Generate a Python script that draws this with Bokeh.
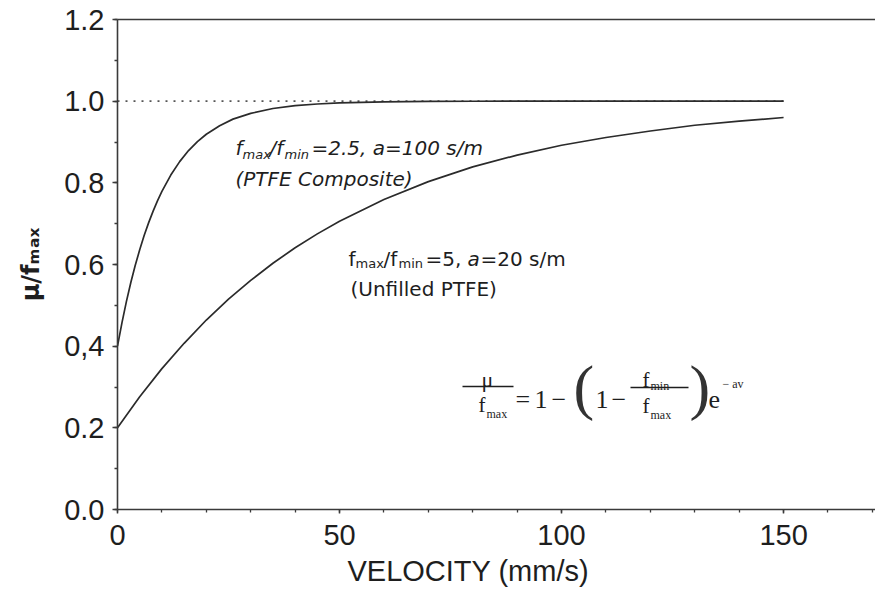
from bokeh.plotting import figure
from bokeh.models import Label, Range1d, LinearAxis, FixedTicker, Title
from bokeh.embed import file_html
from bokeh.resources import INLINE

# ---- data ----
velocity = [0, 1, 2, 3, 4, 5, 6, 7, 8, 9, 10, 12, 14, 16, 18, 20, 23, 26, 30, 35, 40, 45,
             50, 60, 70, 80, 100, 150]
ptfe_composite = [0.400, 0.457, 0.509, 0.556, 0.598, 0.636, 0.671, 0.702, 0.730, 0.756,
                  0.779, 0.819, 0.852, 0.879, 0.901, 0.919, 0.940, 0.956, 0.970, 0.982,
                  0.989, 0.993, 0.996, 0.9985, 0.9995, 0.9998, 1.0, 1.0]
velocity_u = [0, 5, 10, 15, 20, 25, 30, 35, 40, 45, 50, 60, 70, 80, 90, 100, 110, 120,
              130, 140, 150]
unfilled_ptfe = [0.200, 0.276, 0.345, 0.407, 0.464, 0.515, 0.561, 0.603, 0.641, 0.675,
                 0.706, 0.759, 0.803, 0.839, 0.868, 0.892, 0.911, 0.927, 0.941, 0.951, 0.960]
ref_x = [0, 150]
ref_y = [1.0, 1.0]
x_ticks = [0, 50, 100, 150]
y_ticks = [0.0, 0.2, 0.4, 0.6, 0.8, 1.0, 1.2]
y_tick_labels = ["0.0", "0.2", "0,4", "0.6", "0.8", "1.0", "1.2"]

W, H = 875, 594
L, T, B = 117, 19, 85
XMAX = 170.7
YMAX = 1.2

p = figure(width=W, height=H, output_backend="svg", toolbar_location=None,
           x_range=Range1d(0, XMAX), y_range=Range1d(0, YMAX),
           min_border_left=L, min_border_right=0, min_border_top=T, min_border_bottom=B)
p.outline_line_color = None
p.grid.visible = False
p.background_fill_color = "white"
p.border_fill_color = "white"

AX = "#3a3a3a"
TXT = "#1e1e1e"
for ax in (p.xaxis[0], p.yaxis[0]):
    ax.axis_line_color = AX
    ax.axis_line_width = 1.6
    ax.major_tick_line_color = AX
    ax.minor_tick_line_color = AX
    ax.major_tick_line_width = 1.5
    ax.minor_tick_line_width = 1.3
    ax.major_tick_in = 0
    ax.minor_tick_in = 0
    ax.major_label_text_font = "Liberation Sans"
    ax.major_label_text_font_size = "29px"
    ax.major_label_text_color = TXT

p.xaxis.ticker = FixedTicker(ticks=x_ticks, minor_ticks=list(range(0, 171, 10)))
p.xaxis.major_tick_out = 4
p.xaxis.minor_tick_out = 3
p.xaxis.major_label_standoff = 11

p.yaxis.ticker = FixedTicker(ticks=y_ticks, minor_ticks=[i / 10 for i in range(0, 13)])
p.yaxis.major_label_overrides = {t: s for t, s in zip(y_ticks, y_tick_labels)}
p.yaxis.major_tick_out = 5
p.yaxis.minor_tick_out = 3
p.yaxis.major_label_standoff = 8
p.yaxis.axis_label = "μ/fₘₐₓ"
p.yaxis.axis_label_text_font = "DejaVu Sans"
p.yaxis.axis_label_text_font_style = "bold"
p.yaxis.axis_label_text_font_size = "24px"
p.yaxis.axis_label_text_color = TXT
p.yaxis.axis_label_standoff = 16

top = LinearAxis(axis_line_color=AX, axis_line_width=1.6, major_tick_line_color=None,
                 minor_tick_line_color=None, major_label_text_font_size="0px")
p.add_layout(top, "above")

xtitle = Title(text="VELOCITY (mm/s)", align="left", offset=230, standoff=11,
               text_font="Liberation Sans", text_font_style="normal",
               text_font_size="29px", text_color=TXT)
p.add_layout(xtitle, "below")

# ---- curves ----
p.line(ref_x, ref_y, line_color="#555555", line_width=1.6, line_dash="2 6")
p.line(velocity, ptfe_composite, line_color="#2b2b2b", line_width=1.7)
p.line(velocity_u, unfilled_ptfe, line_color="#2b2b2b", line_width=1.7)

# ---- annotation helpers (pixel position -> data position) ----
def dx(px):
    return (px - L) * XMAX / (W - L)

def dy(py):
    return (H - B - py) * YMAX / (H - B - T)

def lab(text, px, py, size, font="DejaVu Sans", style="normal", align="left",
        baseline="alphabetic", color=TXT):
    p.add_layout(Label(x=dx(px), y=dy(py), text=text, text_font=font, text_font_style=style,
                       text_font_size=f"{size}px", text_align=align, text_baseline=baseline,
                       text_color=color))

# annotation 1 (italic)
x0, y0 = 235, 147
lab("f", x0, y0, 20, style="italic")
lab("max", x0 + 7, y0 + 7, 13, style="italic")
lab("/f", x0 + 34, y0, 20, style="italic")
lab("min", x0 + 49, y0 + 7, 13, style="italic")
lab("=2.5, a=100 s/m", x0 + 76, y0, 20, style="italic")
lab("(PTFE Composite)", x0, 178, 20, style="italic")

# annotation 2
x1, y1 = 348, 258
lab("f", x1, y1, 20)
lab("max", x1 + 7, y1 + 5, 13)
lab("/f", x1 + 35, y1, 20)
lab("min", x1 + 50, y1 + 5, 13)
lab("=5,", x1 + 77, y1, 20)
lab("a", x1 + 119, y1, 20, style="italic")
lab("=20 s/m", x1 + 132, y1, 20)
lab("(Unfilled PTFE)", x1 + 2, 288, 20)

# formula
SERIF = "Liberation Serif"
lab("μ", 487, 379, 22, font=SERIF, align="center")
p.segment(x0=[dx(462)], y0=[dy(386)], x1=[dx(513)], y1=[dy(386)], line_color=TXT, line_width=1.4)
lab("f", 478, 404, 21, font=SERIF)
lab("max", 486, 413, 12, font=SERIF)
lab("=", 515, 399, 26, font=SERIF)
lab("1", 534, 399, 26, font=SERIF)
lab("−", 551, 399, 26, font=SERIF)
lab("(", 573, 386, 62, font=SERIF, baseline="middle", color="#333333")
lab("1", 595, 399, 26, font=SERIF)
lab("−", 611, 399, 26, font=SERIF)
p.segment(x0=[dx(630)], y0=[dy(387)], x1=[dx(688)], y1=[dy(387)], line_color=TXT, line_width=1.4)
lab("f", 642, 379, 21, font=SERIF)
lab("min", 650, 385, 12, font=SERIF)
lab("f", 642, 405, 21, font=SERIF)
lab("max", 650, 414, 12, font=SERIF)
lab(")", 689, 386, 62, font=SERIF, baseline="middle", color="#333333")
lab("e", 708, 399, 26, font=SERIF)
lab("− av", 722, 383, 12, font=SERIF)

open("out.html", "w").write(file_html(p, INLINE))
